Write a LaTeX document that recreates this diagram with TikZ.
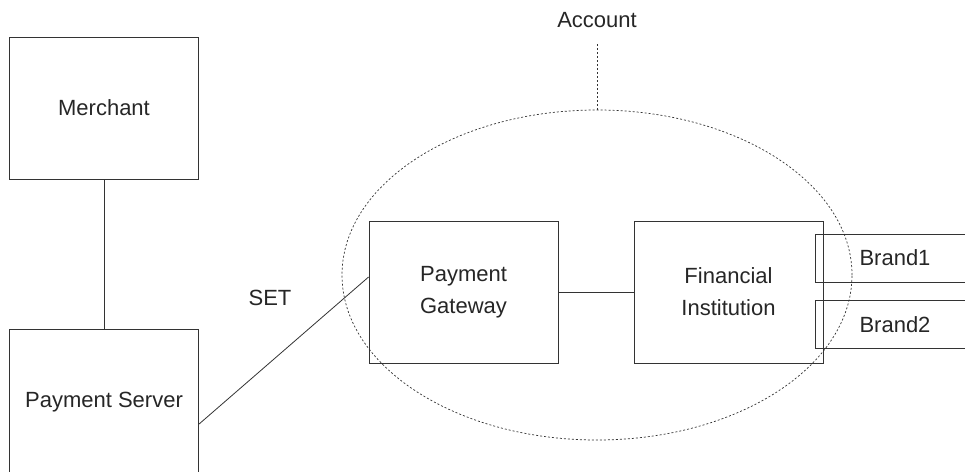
\documentclass[tikz,border=0pt]{standalone}
\usepackage{fontspec}
\setmainfont{Liberation Sans}
\usetikzlibrary{shapes.geometric}
\begin{document}
\begin{tikzpicture}[x=1pt,y=-1pt,
  line width=0.8pt,
  every node/.style={font=\fontsize{22}{32}\selectfont, text=black!85},
  box/.style={draw=black!80, rectangle, inner sep=0pt, align=center,
    minimum width=189pt, minimum height=142pt},
  brandbox/.style={draw=black!80, rectangle, inner sep=0pt,
    minimum width=160pt, minimum height=48pt},
  link/.style={draw=black!80},
  dotline/.style={draw=black!80, line width=0.7pt, dash pattern=on 2pt off 2pt}]
\useasboundingbox (0,0) rectangle (965,471);
\clip (0,0) rectangle (965,471);

% region of the account
\node[ellipse, dotline, minimum width=510pt, minimum height=330pt, inner sep=0pt] (acct) at (597,275) {};
\node (acctlbl) at (597,20) {Account};
\coordinate (acctend) at (597,43);
\draw[dotline] (acct.north) -- (acctend);

% boxes
\node[box] (merchant) at (104,108) {Merchant};
\node[box, minimum height=150pt, text depth=8pt] (server) at (104,404) {Payment Server};
\node[box] (gateway) at (463.5,292) {Payment\\Gateway};
\node[box] (fin) at (728.5,292) {Financial\\Institution};
\node[brandbox] (brand1) at (895,258) {Brand1};
\node[brandbox] (brand2) at (895,324.5) {Brand2};

\node (set) at (270,298) {SET};

% connectors
\draw[link] (merchant) -- (server);
\draw[link] (server.-12) -- (gateway.171.6);
\draw[link] (gateway) -- (fin);
\end{tikzpicture}
\end{document}
